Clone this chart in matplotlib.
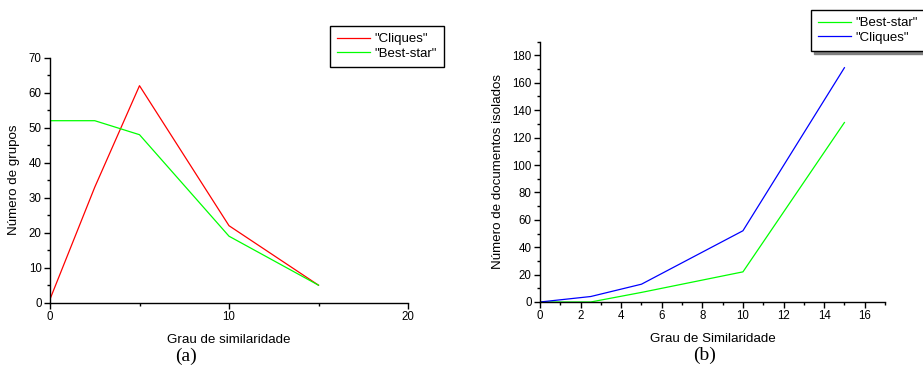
import matplotlib
matplotlib.use("Agg")
import matplotlib.pyplot as plt
from matplotlib.ticker import MultipleLocator

plt.rcParams['font.family'] = ['Liberation Sans', 'DejaVu Sans']

# Chart (a)
xa = [0, 2.5, 5, 10, 15]
cliques_a = [1, 33, 62, 22, 5]
beststar_a = [52, 52, 48, 19, 5]

# Chart (b)
xb = [0, 2.5, 5, 10, 15]
beststar_b = [0, 0, 7, 22, 131]
cliques_b = [0, 4, 13, 52, 171]

fig = plt.figure(figsize=(9.23, 3.70), dpi=100)

def style(ax):
    for s in ['top', 'right']:
        ax.spines[s].set_visible(False)
    for s in ['left', 'bottom']:
        ax.spines[s].set_linewidth(1.0)
    ax.tick_params(which='major', direction='out', length=4, width=1, labelsize=8.3, pad=2)
    ax.tick_params(which='minor', direction='out', length=2.5, width=1)

leg_kw = dict(fontsize=9.5, fancybox=False, edgecolor='black', framealpha=1,
              handlelength=2.5, borderpad=0.55, labelspacing=0.15,
              handletextpad=0.3, borderaxespad=0)

# (a)
axa = fig.add_axes([50/923, 1-302.7/370, (408-50)/923, (302.7-57.7)/370])
axa.plot(xa, cliques_a, color='#ff0000', lw=0.9, label='"Cliques"')
axa.plot(xa, beststar_a, color='#00ff00', lw=0.9, label='"Best-star"')
axa.set_xlim(0, 20)
axa.set_ylim(0, 70)
axa.xaxis.set_major_locator(MultipleLocator(10))
axa.xaxis.set_minor_locator(MultipleLocator(5))
axa.yaxis.set_major_locator(MultipleLocator(10))
axa.yaxis.set_minor_locator(MultipleLocator(5))
style(axa)
axa.set_xlabel('Grau de similaridade', fontsize=9.6, labelpad=8)
axa.set_ylabel('Número de grupos', fontsize=9.6, labelpad=6)
leg = axa.legend(loc='upper left', bbox_to_anchor=(330/923, 1-26/370),
                 bbox_transform=fig.transFigure, **leg_kw)
leg.get_frame().set_linewidth(1.0)
fig.text(186/923, 1-356/370, '(a)', family='Liberation Serif', fontsize=14,
         ha='center', va='center')

# (b)
axb = fig.add_axes([540/923, 1-302/370, (885-540)/923, (302-41.7)/370])
axb.plot(xb, beststar_b, color='#00ff00', lw=0.9, label='"Best-star"')
axb.plot(xb, cliques_b, color='#0000ff', lw=0.9, label='"Cliques"')
axb.set_xlim(0, 17)
axb.set_ylim(0, 190)
axb.xaxis.set_major_locator(MultipleLocator(2))
axb.xaxis.set_minor_locator(MultipleLocator(1))
axb.yaxis.set_major_locator(MultipleLocator(20))
axb.yaxis.set_minor_locator(MultipleLocator(10))
axb.set_xticks([0, 2, 4, 6, 8, 10, 12, 14, 16])
style(axb)
axb.set_xlabel('Grau de Similaridade', fontsize=9.6, labelpad=8)
axb.set_ylabel('Número de documentos isolados', fontsize=9.6, labelpad=6)
legb = axb.legend(loc='upper left', bbox_to_anchor=(811/923, 1-10/370),
                  bbox_transform=fig.transFigure,
                  shadow={'color': '0.5', 'alpha': 1}, **leg_kw)
legb.get_frame().set_linewidth(1.0)
fig.text(705/923, 1-355/370, '(b)', family='Liberation Serif', fontsize=14,
         ha='center', va='center')

fig.savefig('out.png', dpi=100)
